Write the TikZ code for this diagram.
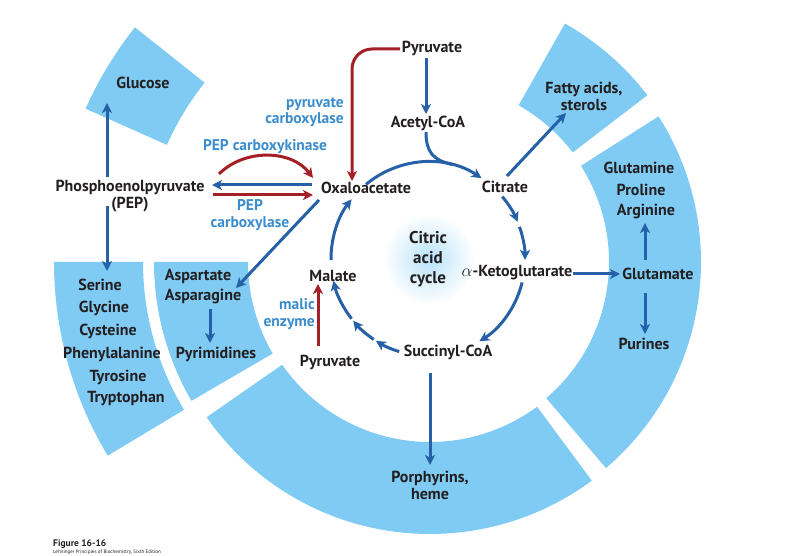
\documentclass[tikz,border=0pt]{standalone}
\usepackage{fontspec}
\setmainfont{PT Sans}
\usetikzlibrary{arrows.meta}
\definecolor{ring}{RGB}{127,203,244}
\definecolor{dblue}{RGB}{38,96,166}
\definecolor{dred}{RGB}{163,32,38}
\definecolor{lblue}{RGB}{58,140,205}
\definecolor{ink}{RGB}{35,31,32}
\begin{document}
\begin{tikzpicture}[x=1pt,y=-1pt,
  lbl/.style={font=\bfseries\fontsize{16}{17}\selectfont, text=ink, inner sep=1pt, align=center},
  enz/.style={font=\bfseries\fontsize{15.5}{16.5}\selectfont, text=lblue, inner sep=1pt},
  arr/.style={draw=dblue, line width=3pt, -{Stealth[length=10pt,width=10pt,inset=2.8pt]}},
  rarr/.style={arr, draw=dred},
  line/.style={draw=dblue, line width=3pt}]
\useasboundingbox (0,0) rectangle (796,556);
% ring segments
\begin{scope}[shift={(430,262)}, y=1pt]
  \fill[ring] (-49.5:179) arc[start angle=-49.5,end angle=32.5,radius=179] -- (32.5:271) arc[start angle=32.5,end angle=-49.5,radius=271] -- cycle;
  \fill[ring] (37.5:180) arc[start angle=37.5,end angle=60.5,radius=180] -- (60.5:274) arc[start angle=60.5,end angle=37.5,radius=274] -- cycle;
  \fill[ring] (214.8:180) arc[start angle=214.8,end angle=306.5,radius=180] -- (306.5:272) arc[start angle=306.5,end angle=214.8,radius=272] -- cycle;
  \fill[ring] (180:182) arc[start angle=180,end angle=210.2,radius=182] -- (210.2:276) arc[start angle=210.2,end angle=180,radius=276] -- cycle;
  \fill[ring] (180:287) arc[start angle=180,end angle=211,radius=287] -- (211:376) arc[start angle=211,end angle=180,radius=376] -- cycle;
  \fill[ring] (141.5:288) arc[start angle=141.5,end angle=156,radius=288] -- (156:377) arc[start angle=156,end angle=141.5,radius=377] -- cycle;
\end{scope}
% glow
\shade[inner color=ring!55, outer color=white] (429,259) circle[radius=46pt];
% citric acid cycle arcs
\begin{scope}[shift={(428,259)}, y=1pt]
  \draw[arr] (129.7:97) arc[start angle=129.7,end angle=56.5,radius=97];
  \draw[arr] (40:97) arc[start angle=40,end angle=22.5,radius=97];
  \draw[arr] (19.4:97) arc[start angle=19.4,end angle=-0.5,radius=97];
  \draw[arr] (-14:97) arc[start angle=-14,end angle=-58,radius=97];
  \draw[arr] (-107.3:97) arc[start angle=-107.3,end angle=-122.5,radius=97];
  \draw[arr] (-124:97) arc[start angle=-124,end angle=-140.5,radius=97];
  \draw[arr] (-142:97) arc[start angle=-142,end angle=-167,radius=97];
  \draw[arr] (180.6:97) arc[start angle=180.6,end angle=142,radius=97];
\end{scope}
% labels
\node[lbl] (pyrt) at (432,48) {Pyruvate};
\node[lbl] (acoa) at (428,123) {Acetyl-CoA};
\node[lbl] (cit) at (505,187) {Citrate};
\node[lbl] (oaa) at (366,188) {Oxaloacetate};
\node[lbl] (pep) at (130,196) {Phosphoenolpyruvate\\(PEP)};
\node[lbl] (glc) at (143,83) {Glucose};
\node[enz, align=right, anchor=east] (pc) at (345,112) {pyruvate\\carboxylase};
\node[enz] (pepck) at (265,147) {PEP carboxykinase};
\node[enz, align=center] (pepc) at (250,215) {PEP\\carboxylase};
\node[lbl] (fa) at (584,96) {Fatty acids,\\sterols};
\node[lbl] (gln) at (639,168) {Glutamine};
\node[lbl] (pro) at (641,190) {Proline};
\node[lbl] (arg) at (646,212) {Arginine};
\node[lbl] (glu) at (658,274) {Glutamate};
\node[lbl] (pur) at (644,344) {Purines};
\node[lbl] (akg) at (517,273) {$\alpha$-Ketoglutarate};
\node[lbl] (suc) at (448,352) {Succinyl-CoA};
\node[lbl] (por) at (430,485) {Porphyrins,\\heme};
\node[lbl] (pyrb) at (330,362) {Pyruvate};
\node[lbl] (mal) at (333,276) {Malate};
\node[enz, align=right, anchor=east] (me) at (316,314) {malic\\enzyme};
\node[lbl] (asp) at (198,276) {Aspartate};
\node[lbl] (asn) at (203,297) {Asparagine};
\node[lbl] (pyrim) at (216,354) {Pyrimidines};
\node[lbl] (ser) at (100,285) {Serine};
\node[lbl] (gly) at (104,308) {Glycine};
\node[lbl] (cys) at (108,331) {Cysteine};
\node[lbl] (phe) at (112,354) {Phenylalanine};
\node[lbl] (tyr) at (118,377) {Tyrosine};
\node[lbl] (trp) at (126,399) {Tryptophan};
\node[lbl, font=\bfseries\fontsize{17}{20}\selectfont] (cac) at (428,259) {Citric\\acid\\cycle};
\node[font=\bfseries\fontsize{9.5}{10}\selectfont, text=ink, anchor=west, inner sep=0] (fig) at (53,544) {Figure 16-16};
\node[font=\fontsize{5}{6}\selectfont, text=ink, anchor=west, inner sep=0] (src) at (53,552.5) {Lehninger Principles of Biochemistry, Sixth Edition};
% arrows
\draw[arr] (426,58) -- (426,114);
\draw[line] (426,132) .. controls (426,152) and (433,160) .. (452,164.5);
\draw[rarr] (219,174) .. controls (245,148) and (292,150) .. (313,178);
\draw[arr] (312,185) -- (212,185);
\draw[rarr] (213,195) -- (313,195);
\draw[rarr, rounded corners=20pt] (400,49) -- (352,49) -- (352,181);
\draw[arr] (107,177) -- (107,103);
\draw[arr] (107,206) -- (107,271);
\draw[arr] (319,200) -- (236,288);
\draw[arr] (210,309) -- (210,343);
\draw[rarr] (318,346) -- (318,284);
\draw[arr] (507,176) -- (566,113);
\draw[arr] (573,274) -- (620,274);
\draw[arr] (645,260) -- (645,223);
\draw[arr] (645,293) -- (645,334);
\draw[arr] (430,373) -- (430,465);
\end{tikzpicture}
\end{document}
